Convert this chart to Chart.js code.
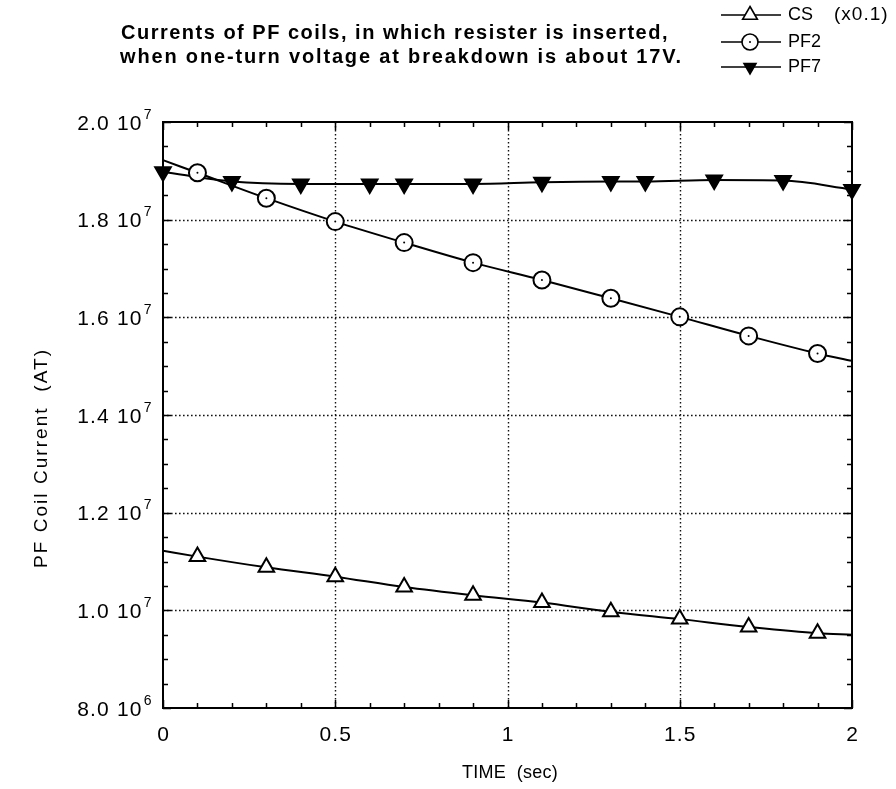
<!DOCTYPE html>
<html>
<head>
<meta charset="utf-8">
<script src="https://cdn.jsdelivr.net/npm/chart.js@4.4.1/dist/chart.umd.min.js"></script>
<style>
  html, body { margin: 0; padding: 0; background: #fff; }
  canvas { display: block; }
</style>
</head>
<body>
<canvas id="c" width="896" height="789"></canvas>
<script>
// Coil currents (ampere-turns) against time (s)
const timeCS  = [0, 0.1, 0.3, 0.5, 0.7, 0.9, 1.1, 1.3, 1.5, 1.7, 1.9, 2.0];
const currCS  = [1.122e7, 1.110e7, 1.088e7, 1.069e7, 1.048e7, 1.031e7, 1.016e7, 0.997e7, 0.982e7, 0.966e7, 0.953e7, 0.950e7]; // CS current x 0.1

const timePF2 = [0, 0.1, 0.3, 0.5, 0.7, 0.9, 1.1, 1.3, 1.5, 1.7, 1.9, 2.0];
const currPF2 = [1.922e7, 1.896e7, 1.844e7, 1.796e7, 1.753e7, 1.712e7, 1.6765e7, 1.639e7, 1.601e7, 1.562e7, 1.526e7, 1.511e7];

const timePF7 = [0, 0.2, 0.4, 0.6, 0.7, 0.9, 1.1, 1.3, 1.4, 1.6, 1.8, 2.0];
const currPF7 = [1.898e7, 1.878e7, 1.873e7, 1.873e7, 1.873e7, 1.873e7, 1.8765e7, 1.878e7, 1.878e7, 1.881e7, 1.880e7, 1.862e7];

// Axis tick values and their printed labels
const yTickValues = [8.0e6, 1.0e7, 1.2e7, 1.4e7, 1.6e7, 1.8e7, 2.0e7];
const yTickMant   = ['8.0', '1.0', '1.2', '1.4', '1.6', '1.8', '2.0'];
const yTickExp    = ['6', '7', '7', '7', '7', '7', '7'];
const xTickValues = [0, 0.5, 1, 1.5, 2];
const xTickLabels = ['0', '0.5', '1', '1.5', '2'];

const seriesNames = ['CS  (x0.1)', 'PF2', 'PF7'];
const titleLines = [
  'Currents of PF coils, in which resister is inserted,',
  'when one-turn voltage at breakdown is about 17V.'
];
const xTitle = 'TIME  (sec)';
const yTitle = 'PF Coil Current  (AT)';

const FONT = '"Liberation Sans", Arial, Helvetica, sans-serif';

function pairs(xs, ys) { return xs.map((x, i) => ({ x: x, y: ys[i] })); }

// markers on inner points only (the curve ends carry no symbol)
const innerOnly = r => ctx => (ctx.dataIndex === 0 || ctx.dataIndex === ctx.dataset.data.length - 1) ? 0 : r;

function setSpacing(ctx, px) { if ('letterSpacing' in ctx) ctx.letterSpacing = px + 'px'; }

// draw text stretched/compressed by letter spacing to a given width
function fitText(ctx, text, x, y, width) {
  setSpacing(ctx, 0);
  const w = ctx.measureText(text).width;
  const ls = Math.max(-1, Math.min(4, (width - w) / text.length));
  setSpacing(ctx, ls);
  ctx.fillText(text, x, y);
  setSpacing(ctx, 0);
}

function markerPath(ctx, style, x, y, r) {
  ctx.beginPath();
  if (style === 'circle') {
    ctx.arc(x, y, r, 0, Math.PI * 2);
  } else {
    const s = style === 'down' ? -1 : 1;
    const c = Math.cos(Math.PI / 6) * r;
    ctx.moveTo(x, y - s * r);
    ctx.lineTo(x + c, y + s * r / 2);
    ctx.lineTo(x - c, y + s * r / 2);
    ctx.closePath();
  }
}

const framePlugin = {
  id: 'frame',
  beforeDatasetsDraw(chart) {
    const { ctx, chartArea: a, scales: { x, y } } = chart;
    ctx.save();
    // dotted grid at the labelled values
    ctx.strokeStyle = '#111';
    ctx.lineWidth = 1.4;
    ctx.setLineDash([1.6, 2.4]);
    yTickValues.forEach(v => {
      const py = Math.round(y.getPixelForValue(v)) + 0.5;
      if (py <= a.top + 2 || py >= a.bottom - 2) return;
      ctx.beginPath(); ctx.moveTo(a.left, py); ctx.lineTo(a.right, py); ctx.stroke();
    });
    xTickValues.forEach(v => {
      const px = Math.round(x.getPixelForValue(v)) + 0.5;
      if (px <= a.left + 2 || px >= a.right - 2) return;
      ctx.beginPath(); ctx.moveTo(px, a.top); ctx.lineTo(px, a.bottom); ctx.stroke();
    });
    ctx.setLineDash([]);
    // inward tick marks on all four sides
    ctx.strokeStyle = '#000';
    ctx.lineWidth = 1.5;
    for (let i = 0; i <= 24; i++) {
      const py = Math.round(y.getPixelForValue(8e6 + i * 5e5)) + 0.5;
      const len = i % 4 === 0 ? 8 : 5;
      ctx.beginPath();
      ctx.moveTo(a.left, py); ctx.lineTo(a.left + len, py);
      ctx.moveTo(a.right, py); ctx.lineTo(a.right - len, py);
      ctx.stroke();
    }
    for (let i = 0; i <= 20; i++) {
      const px = Math.round(x.getPixelForValue(i * 0.1)) + 0.5;
      const len = i % 5 === 0 ? 8 : 5;
      ctx.beginPath();
      ctx.moveTo(px, a.bottom); ctx.lineTo(px, a.bottom - len);
      ctx.moveTo(px, a.top); ctx.lineTo(px, a.top + len);
      ctx.stroke();
    }
    // frame
    ctx.lineWidth = 2;
    ctx.strokeRect(a.left, a.top, a.right - a.left, a.bottom - a.top);
    ctx.restore();
  },
  afterDatasetsDraw(chart) {
    // small centre dot inside each PF2 circle
    const { ctx } = chart;
    const meta = chart.getDatasetMeta(1);
    ctx.save();
    ctx.fillStyle = '#000';
    meta.data.forEach((pt, i) => {
      if (i === 0 || i === meta.data.length - 1) return;
      ctx.beginPath(); ctx.arc(pt.x, pt.y, 1, 0, Math.PI * 2); ctx.fill();
    });
    ctx.restore();
  },
  afterDraw(chart) {
    const { ctx, chartArea: a, scales: { x, y } } = chart;
    ctx.save();
    ctx.fillStyle = '#000';

    // y tick labels: mantissa, power of ten with raised exponent
    ctx.textBaseline = 'alphabetic';
    yTickValues.forEach((v, i) => {
      const py = y.getPixelForValue(v);
      const base = py + 7.5;
      let right = 152;
      ctx.font = '14px ' + FONT;
      setSpacing(ctx, 0.5);
      const ew = ctx.measureText(yTickExp[i]).width;
      ctx.textAlign = 'left';
      ctx.fillText(yTickExp[i], right - ew, base - 11);
      right -= ew + 1;
      ctx.font = '21px ' + FONT;
      setSpacing(ctx, 1.2);
      ctx.textAlign = 'right';
      ctx.fillText('10', right, base);
      const tw = ctx.measureText('10').width;
      ctx.fillText(yTickMant[i], right - tw - 7, base);
      setSpacing(ctx, 0);
    });

    // x tick labels
    ctx.font = '21px ' + FONT;
    ctx.textAlign = 'center';
    ctx.textBaseline = 'middle';
    xTickValues.forEach((v, i) => {
      setSpacing(ctx, 1.2);
      ctx.fillText(xTickLabels[i], x.getPixelForValue(v) + 0.6, a.bottom + 27);
      setSpacing(ctx, 0);
    });

    // axis titles
    ctx.font = '18px ' + FONT;
    ctx.textAlign = 'left';
    ctx.textBaseline = 'middle';
    fitText(ctx, xTitle, 462, 773, 96);
    ctx.save();
    ctx.translate(42, 0);
    ctx.rotate(-Math.PI / 2);
    ctx.font = '19px ' + FONT;
    fitText(ctx, yTitle, -568, 0, 220);
    ctx.restore();

    // heading
    ctx.font = 'bold 20px ' + FONT;
    fitText(ctx, titleLines[0], 121, 33, 548);
    fitText(ctx, titleLines[1], 120, 57, 563);

    // key
    const rows = [15, 42, 67];
    const styles = ['up', 'circle', 'down'];
    rows.forEach((ry, i) => {
      ctx.strokeStyle = '#000';
      ctx.lineWidth = 1.6;
      ctx.beginPath(); ctx.moveTo(721, ry); ctx.lineTo(781, ry); ctx.stroke();
      markerPath(ctx, styles[i], 750, ry, styles[i] === 'circle' ? 8 : 8.5);
      if (styles[i] === 'down') { ctx.fillStyle = '#000'; ctx.fill(); }
      else { ctx.fillStyle = '#fff'; ctx.fill(); ctx.stroke(); }
      if (styles[i] === 'circle') {
        ctx.fillStyle = '#000';
        ctx.beginPath(); ctx.arc(750, ry, 1, 0, Math.PI * 2); ctx.fill();
      }
      ctx.fillStyle = '#000';
      ctx.textAlign = 'left';
      ctx.textBaseline = 'middle';
      ctx.font = '18px ' + FONT;
      // name and scale note are set apart by a wide gap
      const parts = seriesNames[i].split(/\s{2,}/);
      ctx.fillText(parts[0], 788, ry);
      if (parts[1]) {
        ctx.font = '19px ' + FONT;
        setSpacing(ctx, 1);
        ctx.fillText(parts[1], 834, ry);
        setSpacing(ctx, 0);
      }
    });
    ctx.restore();
  }
};

const common = {
  borderColor: '#000',
  borderWidth: 2,
  pointBorderColor: '#000',
  pointBorderWidth: 2,
  cubicInterpolationMode: 'monotone',
  fill: false,
  clip: false
};

new Chart(document.getElementById('c'), {
  type: 'line',
  data: {
    datasets: [
      Object.assign({}, common, {
        label: seriesNames[0],
        data: pairs(timeCS, currCS),
        pointStyle: 'triangle',
        pointRadius: innerOnly(9),
        pointBackgroundColor: '#fff'
      }),
      Object.assign({}, common, {
        label: seriesNames[1],
        data: pairs(timePF2, currPF2),
        pointStyle: 'circle',
        pointRadius: innerOnly(8.5),
        pointBackgroundColor: '#fff'
      }),
      Object.assign({}, common, {
        label: seriesNames[2],
        data: pairs(timePF7, currPF7),
        pointStyle: 'triangle',
        pointRotation: 180,
        pointRadius: 9,
        pointBackgroundColor: '#000'
      })
    ]
  },
  options: {
    responsive: false,
    animation: false,
    events: [],
    layout: { padding: { top: 122, right: 44, left: 0, bottom: 0 } },
    plugins: { legend: { display: false }, title: { display: false }, tooltip: { enabled: false } },
    scales: {
      x: {
        type: 'linear', min: 0, max: 2,
        ticks: { display: false },
        grid: { display: false },
        border: { display: false },
        afterFit: s => { s.height = 81; }
      },
      y: {
        type: 'linear', min: 8e6, max: 2e7,
        ticks: { display: false },
        grid: { display: false },
        border: { display: false },
        afterFit: s => { s.width = 163; }
      }
    }
  },
  plugins: [framePlugin]
});
</script>
</body>
</html>
